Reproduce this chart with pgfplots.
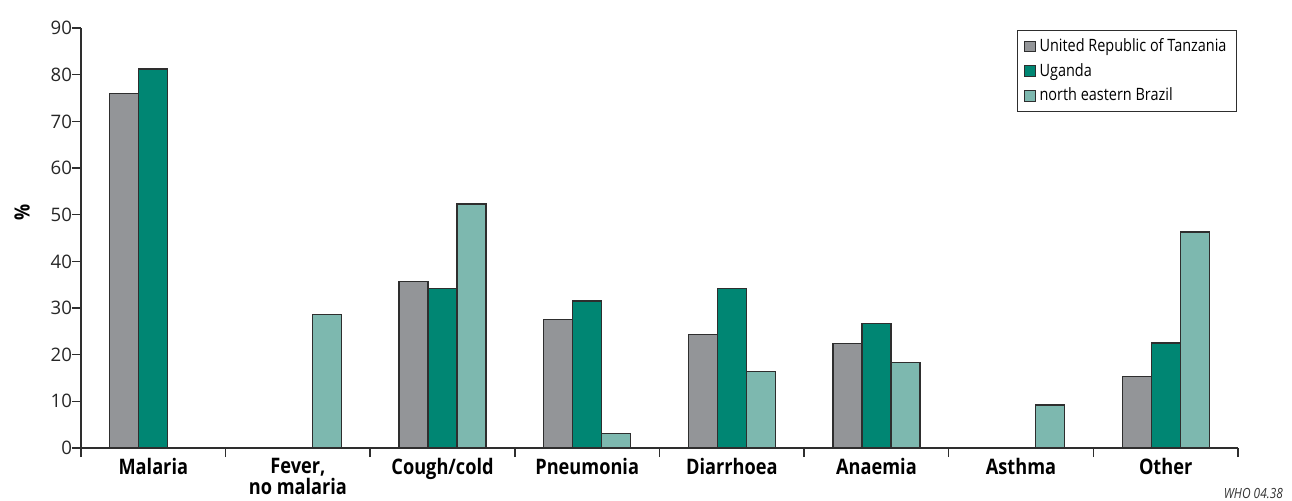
\documentclass[border=0pt]{standalone}
\usepackage{fontspec}
\setmainfont[FakeStretch=0.85]{Open Sans}
\newfontfamily\wide{Open Sans}
\usepackage{pgfplots}
\pgfplotsset{compat=1.18}
\definecolor{cgray}{HTML}{939598}
\definecolor{cgreen}{HTML}{008673}
\definecolor{clight}{HTML}{7DB8AF}
\definecolor{cedge}{HTML}{2E2E2E}
\pgfplotsset{mylegend/.style={legend image code/.code={\draw[##1, draw=cedge, line width=0.5pt] (0pt,-2.7pt) rectangle (5.4pt,2.7pt);}}}
\begin{document}
\begin{tikzpicture}
\begin{axis}[
  scale only axis, width=578.5pt, height=210pt,
  at={(0,0)}, anchor=south west,
  xmin=-0.5, xmax=7.5, ymin=0, ymax=90,
  axis x line*=bottom, axis y line*=left,
  axis line style={-, line width=0.75pt, color=cedge},
  ytick={0,10,...,90},
  xtick={-0.5,0.5,...,7.5}, xticklabels={},
  extra x ticks={0,1,2,3,4,5,6,7},
  extra x tick labels={Malaria,{Fever,\\no malaria},Cough/cold,Pneumonia,Diarrhoea,Anaemia,Asthma,Other},
  extra x tick style={major tick length=0pt, tick label style={font=\bfseries\fontsize{10.7}{10.5}\selectfont, align=center, anchor=north, yshift=-1.5pt}},
  tick align=outside, major tick length=4.5pt,
  tick style={line width=0.75pt, cedge},
  yticklabel style={font=\wide\fontsize{9.3}{10}\selectfont, text=black!85, xshift=3.5pt},
  /pgf/number format/assume math mode=true,
  ylabel={\%},
  ylabel style={font=\bfseries\fontsize{10.5}{11}\selectfont, at={(axis description cs:-0.051,0.56)}, anchor=center},
  ybar=0pt, bar width=14.5pt,
  legend style={at={(1,1)}, anchor=north east, xshift=-0.5pt, yshift=-1pt, draw=cedge, line width=0.5pt,
    font=\fontsize{8.5}{10}\selectfont, inner xsep=3pt, inner ysep=2pt, row sep=0.3pt},
  legend cell align=left,
]
\addplot[fill=cgray, draw=cedge, line width=0.6pt, mylegend] coordinates {(0,76) (2,35.6) (3,27.6) (4,24.4) (5,22.4) (7,15.4)};
\addplot[fill=cgreen, draw=cedge, line width=0.6pt, mylegend] coordinates {(0,81.2) (2,34.1) (3,31.5) (4,34.1) (5,26.6) (7,22.5)};
\addplot[fill=clight, draw=cedge, line width=0.6pt, mylegend] coordinates {(1,28.6) (2,52.3) (3,3.1) (4,16.4) (5,18.4) (6,9.2) (7,46.3)};
\legend{United Republic of Tanzania, Uganda, north eastern Brazil}
\end{axis}
\node[anchor=base east, font=\itshape\fontsize{7}{8}\selectfont, text=black!80] at (604.5pt,-25pt) {WHO 04.38};
\pgfresetboundingbox
\path[use as bounding box] (-40.5pt,-26pt) rectangle (605.5pt,224pt);
\end{tikzpicture}
\end{document}
